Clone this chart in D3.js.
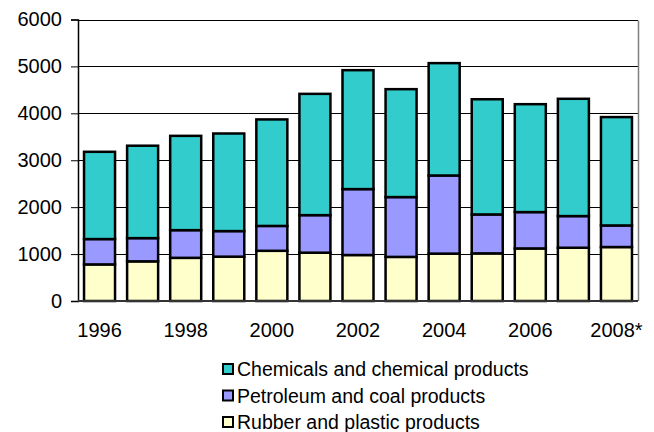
<!DOCTYPE html>
<html>
<head>
<meta charset="utf-8">
<script src="https://cdn.jsdelivr.net/npm/d3@7"></script>
<style>
  html, body { margin: 0; padding: 0; background: #fff; }
  svg { display: block; font-family: "Liberation Sans", Arial, sans-serif; }
</style>
</head>
<body>
<svg id="chart" width="654" height="432"></svg>
<script>
// Years on the category axis (2008 is a preliminary estimate)
const years = ["1996","1997","1998","1999","2000","2001","2002","2003","2004","2005","2006","2007","2008*"];
// Stacked series, bottom to top
const rubber     = [780, 845, 920, 945, 1070, 1030, 980, 940, 1010, 1015, 1120, 1135, 1150];
const petroleum  = [540, 495, 590, 545, 530, 800, 1405, 1275, 1665, 830, 775, 675, 460];
const chemicals  = [1860, 1970, 2010, 2080, 2270, 2585, 2535, 2300, 2395, 2455, 2300, 2500, 2310];
const seriesNames = ["Rubber and plastic products", "Petroleum and coal products", "Chemicals and chemical products"];
const seriesColors = ["#FFFFCC", "#9999FF", "#33CCCC"];
const yTicks = [0, 1000, 2000, 3000, 4000, 5000, 6000];
const xTickLabels = ["1996","1998","2000","2002","2004","2006","2008*"];

const svg = d3.select("#chart");
const plotLeft = 78, plotRight = 638, plotTop = 19.5, plotBottom = 301;

const x = d3.scaleBand().domain(years).range([plotLeft, plotRight]).paddingInner(0.28).paddingOuter(0.14);
const y = d3.scaleLinear().domain([0, 6000]).range([plotBottom, plotTop]);

const rows = years.map((yr, i) => ({
  year: yr,
  [seriesNames[0]]: rubber[i],
  [seriesNames[1]]: petroleum[i],
  [seriesNames[2]]: chemicals[i]
}));
const stacked = d3.stack().keys(seriesNames)(rows);

// Horizontal gridlines
svg.append("g")
  .selectAll("line")
  .data(yTicks.filter(d => d > 0))
  .join("line")
  .attr("x1", plotLeft).attr("x2", plotRight)
  .attr("y1", d => Math.round(y(d)) + 0.5).attr("y2", d => Math.round(y(d)) + 0.5)
  .attr("stroke", "#000").attr("stroke-width", 1);

// Right border of the plot area
svg.append("line")
  .attr("x1", plotRight + 0.5).attr("x2", plotRight + 0.5)
  .attr("y1", Math.round(plotTop) + 0.5).attr("y2", plotBottom)
  .attr("stroke", "#808080").attr("stroke-width", 1.5);

// Stacked bars
svg.append("g")
  .selectAll("g")
  .data(stacked)
  .join("g")
  .attr("fill", (d, i) => seriesColors[i])
  .selectAll("rect")
  .data(d => d)
  .join("rect")
  .attr("x", d => x(d.data.year))
  .attr("width", x.bandwidth())
  .attr("y", d => y(d[1]))
  .attr("height", d => y(d[0]) - y(d[1]))
  .attr("stroke", "#000")
  .attr("stroke-width", 2.5);

// Y axis
const yAxis = svg.append("g")
  .attr("transform", `translate(${plotLeft},0)`)
  .call(d3.axisLeft(y).tickValues(yTicks).tickSize(7).tickPadding(9).tickFormat(d3.format("d")));
yAxis.select(".domain").attr("stroke", "#000").attr("stroke-width", 1.5);
yAxis.selectAll(".tick line").attr("stroke", "#000");
yAxis.selectAll("text").attr("font-size", 20).attr("fill", "#000").attr("font-family", "Liberation Sans, Arial, sans-serif");

// X axis
const xAxis = svg.append("g")
  .attr("transform", `translate(0,${plotBottom})`)
  .call(d3.axisBottom(x).tickValues(xTickLabels).tickSize(0).tickPadding(22));
xAxis.select(".domain").attr("stroke", "#333").attr("stroke-width", 2).attr("d", `M${plotLeft},0H${plotRight}`);
xAxis.selectAll("text").attr("font-size", 20).attr("fill", "#000").attr("font-family", "Liberation Sans, Arial, sans-serif");

// Legend (top series listed first)
const legendItems = seriesNames.map((n, i) => ({ name: n, color: seriesColors[i] })).reverse();
const legend = svg.append("g").attr("transform", "translate(222,0)");
const item = legend.selectAll("g")
  .data(legendItems)
  .join("g")
  .attr("transform", (d, i) => `translate(0,${376 + i * 26.5})`);
item.append("rect")
  .attr("x", 1).attr("y", -12).attr("width", 10).attr("height", 10)
  .attr("fill", d => d.color).attr("stroke", "#000").attr("stroke-width", 2);
item.append("text")
  .attr("x", 15).attr("y", 0)
  .attr("font-size", 19.5).attr("fill", "#000")
  .text(d => d.name);
</script>
</body>
</html>
